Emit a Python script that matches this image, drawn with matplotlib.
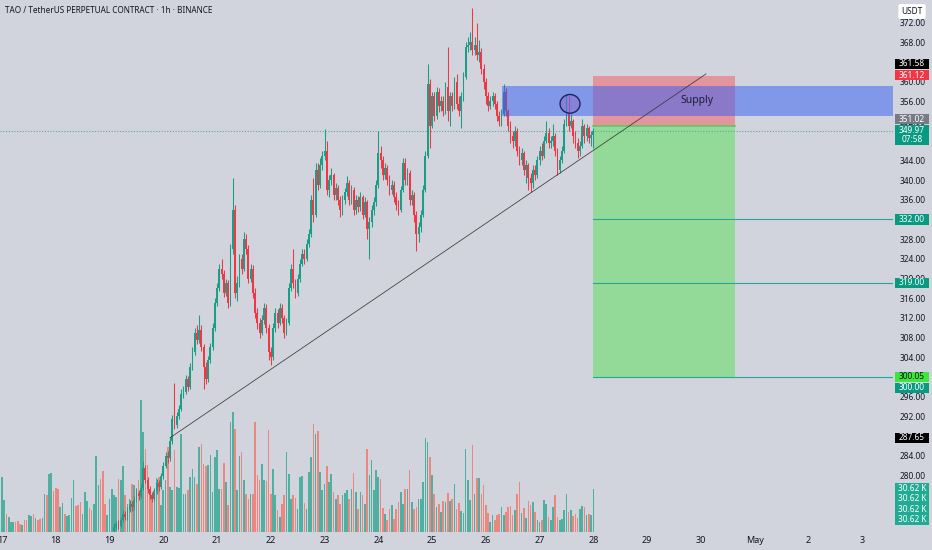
import matplotlib.pyplot as plt
import numpy as np
from matplotlib.patches import Rectangle, Ellipse
from matplotlib.ticker import FormatStrFormatter

plt.rcParams['font.family'] = ['Noto Sans', 'DejaVu Sans']

BG = '#d1d4dc'
UP = '#1a9e86'
DOWN = '#f23645'
VOL_UP = '#4fb0a2'
VOL_DOWN = '#ec867f'

# hours are counted from 17 Apr 00:00, one candle per hour
first_hour = 50
first_open = 268.8

closes_19 = [269.5, 270.2, 269.8, 271.0, 272.2, 271.5, 273.0, 274.2, 273.5, 275.0, 276.5,
             275.8, 277.5, 281.5, 279.0, 277.2, 276.0, 275.2, 276.8, 278.5, 277.6, 279.8]
highs_19 = [270.3, 270.8, 271.0, 271.6, 273.0, 272.8, 273.6, 275.0, 274.9, 275.8, 277.2,
            277.0, 278.3, 283.0, 282.2, 279.6, 277.8, 276.6, 277.4, 279.2, 279.0, 280.5]
lows_19 = [268.2, 269.0, 269.2, 269.5, 270.6, 270.9, 271.0, 272.6, 272.8, 273.0, 274.6,
           275.0, 275.4, 277.0, 278.4, 276.5, 275.2, 274.5, 274.8, 276.2, 276.8, 277.2]

closes_20 = [282.0, 284.0, 283.5, 287.0, 291.5, 290.2, 292.0, 293.5, 296.5, 297.0, 299.5, 298.0,
             302.0, 305.0, 309.0, 307.5, 309.5, 306.0, 302.0, 299.5, 303.5, 306.0, 310.0, 315.0]
highs_20 = [282.8, 284.8, 285.0, 287.8, 292.3, 298.8, 292.8, 294.3, 297.5, 298.2, 300.5, 300.2,
            302.8, 306.0, 310.0, 310.5, 312.5, 310.5, 306.8, 303.0, 304.2, 307.0, 311.0, 316.0]
lows_20 = [279.3, 281.5, 282.6, 283.0, 286.4, 289.5, 289.6, 291.5, 293.0, 295.8, 296.5, 297.2,
           297.6, 301.4, 304.5, 306.8, 307.0, 305.2, 297.5, 298.5, 299.0, 302.8, 305.5, 309.4]

closes_21 = [318, 322, 321, 317, 319, 315, 326, 334, 317, 319, 324, 322,
             328, 326, 320, 322, 317, 313, 311, 309, 311.5, 314, 310, 305]
highs_21 = [319.0, 323.0, 324.0, 321.8, 320.0, 319.8, 327.0, 340.5, 335.0, 320.5, 325.0, 325.0,
            329.5, 329.0, 326.8, 323.0, 322.8, 318.0, 314.0, 312.0, 312.5, 315.0, 314.8, 310.8]
lows_21 = [314.5, 317.4, 320.0, 316.2, 316.5, 314.0, 314.5, 325.0, 316.0, 315.5, 318.2, 321.0,
           321.5, 325.0, 319.0, 319.2, 316.0, 312.0, 309.8, 308.0, 308.5, 310.8, 309.0, 303.5]

closes_22 = [304, 310, 313, 311, 314, 312, 309, 311, 318, 322, 319, 317,
             320, 323, 325, 324, 327, 329, 336, 333, 342, 339, 343, 345]
highs_22 = [306.0, 311.0, 314.0, 313.8, 315.0, 314.8, 312.5, 312.0, 319.0, 323.0, 326.0, 320.0,
            321.0, 324.0, 326.0, 326.0, 328.0, 330.0, 337.0, 340.5, 343.5, 343.5, 344.5, 346.0]
lows_22 = [302.5, 303.5, 309.2, 310.0, 310.5, 311.0, 308.0, 308.5, 310.5, 317.4, 318.0, 316.0,
           316.5, 319.4, 322.5, 323.0, 323.5, 326.4, 328.5, 331.5, 332.5, 338.0, 338.5, 342.0]

closes_23 = [346, 338, 340, 341, 337, 338.5, 336, 334, 336, 337.5, 339.5, 336,
             338, 334, 336, 334.5, 336.5, 333, 335.5, 330, 331.5, 334, 335.5, 339]
highs_23 = [350.3, 348.0, 341.0, 342.5, 341.5, 339.5, 339.0, 336.8, 337.0, 338.5, 340.8, 340.0,
            339.0, 338.6, 337.0, 336.8, 337.5, 337.0, 336.5, 336.0, 332.5, 335.0, 336.5, 340.0]
lows_23 = [344.0, 337.0, 336.5, 339.0, 336.0, 336.0, 335.0, 332.5, 333.0, 335.2, 336.8, 335.0,
           335.2, 333.0, 333.2, 333.5, 333.8, 332.0, 332.5, 328.0, 324.0, 330.5, 333.0, 334.8]

closes_24 = [345.5, 344, 341, 342.5, 340, 338, 339, 336.5, 335, 334, 338, 343.5,
             340, 341.5, 336, 337, 333, 329, 330.5, 333, 338, 345, 359.5, 351]
highs_24 = [350.0, 347.0, 345.0, 343.5, 343.0, 341.0, 340.0, 339.8, 337.5, 336.0, 338.8, 344.5,
            344.5, 342.5, 342.0, 338.0, 337.5, 333.8, 331.5, 334.0, 339.0, 346.0, 363.5, 360.5]
lows_24 = [338.5, 342.5, 340.0, 340.2, 339.0, 337.0, 337.2, 335.5, 334.0, 333.0, 333.5, 337.5,
           339.0, 339.0, 335.0, 335.0, 331.5, 325.5, 327.5, 329.5, 332.5, 337.5, 344.5, 346.5]

closes_25 = [357, 353, 358, 355, 356, 354, 359, 354, 357, 355, 360, 355.5,
             354, 357, 361, 367, 367.5, 368, 366.5, 367.5, 365.5, 366, 362.5, 360]
highs_25 = [358.0, 358.0, 359.0, 358.8, 357.0, 357.0, 360.0, 367.0, 358.0, 358.0, 361.0, 361.5,
            357.0, 358.0, 362.0, 368.0, 369.0, 370.0, 375.0, 369.0, 372.0, 368.5, 366.8, 363.5]
lows_25 = [350.5, 352.0, 352.5, 353.8, 354.0, 353.0, 353.5, 352.0, 351.0, 354.0, 354.5, 354.5,
           353.0, 350.5, 356.0, 360.5, 366.0, 366.5, 365.5, 365.5, 364.5, 364.0, 361.5, 358.5]

closes_26 = [357, 355, 356, 357, 355.5, 353, 352, 353.5, 358, 354, 351, 349,
             348, 350, 346, 344, 345.5, 342, 343, 340.5, 339.5, 342, 341, 344]
highs_26 = [360.8, 358.0, 357.0, 358.0, 357.8, 356.0, 354.0, 354.5, 359.5, 358.8, 354.5, 352.0,
            350.0, 351.0, 350.5, 347.0, 346.5, 346.0, 344.0, 343.5, 341.5, 343.0, 343.0, 345.0]
lows_26 = [355.5, 354.0, 354.5, 355.0, 354.5, 352.0, 351.0, 351.0, 353.0, 353.0, 350.0, 347.5,
           346.5, 347.0, 345.0, 343.0, 343.0, 341.0, 339.5, 338.0, 337.5, 338.5, 340.0, 340.5]

closes_27 = [346, 345, 348, 349.5, 347.5, 348, 349, 346, 342, 344, 346, 351.5, 353.5,
             351, 352, 349, 347.5, 346, 347, 351, 349, 350.5, 348.5, 349.2, 349.97]
highs_27 = [347.0, 347.5, 349.0, 352.0, 350.5, 349.0, 351.5, 349.5, 346.5, 345.0, 347.0, 352.5, 357.5,
            357.0, 353.5, 352.5, 350.0, 348.5, 348.0, 352.5, 351.5, 351.5, 351.0, 350.0, 350.6]
lows_27 = [343.0, 344.0, 344.5, 347.5, 346.5, 346.5, 347.0, 345.0, 341.0, 341.5, 343.5, 345.5, 351.0,
           350.0, 350.5, 347.5, 346.5, 344.5, 345.0, 346.5, 347.5, 348.0, 347.5, 347.0, 346.5]

# volume in thousands, one bar per hour from 17 Apr 00:00
volume = [38.9, 22.4, 13.0, 10.6, 7.1, 7.1, 7.1, 7.8, 5.9, 4.7,
          8.2, 8.7, 11.8, 11.1, 12.5, 10.1, 8.2, 9.4, 10.1, 26.6,
          25.9, 40.7, 41.7, 29.0, 31.3, 30.6, 17.7, 20.5, 12.5, 11.1,
          11.8, 24.3, 36.5, 18.1, 18.8, 21.2, 13.0, 28.3, 21.9, 17.0,
          15.8, 19.5, 53.5, 33.0, 37.7, 43.1, 19.5, 11.8, 23.6, 30.6,
          25.9, 24.7, 37.7, 37.0, 46.4, 25.9, 20.0, 23.6, 34.1, 33.0,
          31.3, 36.5, 93.0, 70.7, 58.9, 47.1, 29.4, 25.9, 23.6, 38.4,
          38.9, 18.8, 29.4, 36.5, 60.1, 31.8, 29.4, 57.7, 31.8, 31.3,
          69.0, 27.1, 27.1, 29.4, 38.9, 44.7, 38.9, 34.1, 60.1, 62.4,
          48.3, 46.4, 47.1, 54.2, 28.3, 53.0, 57.7, 30.6, 30.6, 48.7,
          35.3, 18.8, 77.7, 84.8, 73.0, 29.4, 53.5, 56.5, 36.5, 27.1,
          23.6, 27.1, 27.1, 77.7, 40.0, 36.5, 48.3, 36.5, 36.0, 72.3,
          27.1, 44.7, 25.9, 15.3, 10.6, 20.0, 25.9, 56.5, 40.7, 23.6,
          25.9, 24.3, 16.5, 38.9, 39.3, 20.5, 16.5, 42.4, 53.0, 76.5,
          69.5, 71.4, 42.4, 29.4, 34.1, 46.4, 35.3, 41.2, 28.3, 23.6,
          25.9, 20.0, 25.9, 27.6, 29.4, 23.6, 30.6, 41.7, 28.3, 16.5,
          28.3, 25.9, 19.5, 58.9, 40.0, 50.6, 29.4, 43.6, 38.9, 37.7,
          17.2, 12.5, 8.7, 16.5, 18.8, 9.4, 16.5, 21.2, 28.3, 19.5,
          30.6, 30.6, 43.6, 21.2, 16.5, 17.7, 23.6, 23.6, 35.3, 66.6,
          63.6, 53.0, 40.0, 27.1, 17.7, 19.5, 14.1, 21.9, 21.2, 27.6,
          21.9, 23.6, 34.1, 16.5, 20.5, 14.8, 13.4, 58.9, 36.5, 22.4,
          61.2, 27.1, 38.4, 38.4, 27.1, 33.0, 18.8, 13.4, 7.1, 11.8,
          8.2, 11.8, 12.5, 17.7, 11.8, 14.1, 17.7, 18.1, 11.8, 15.3,
          27.1, 35.3, 13.4, 17.2, 10.1, 21.9, 18.8, 21.2, 14.1, 8.2,
          7.1, 8.2, 22.4, 20.0, 10.6, 8.2, 17.7, 25.9, 10.6, 8.7,
          9.4, 15.3, 27.1, 14.1, 15.8, 11.1, 13.0, 10.1, 16.5, 18.1,
          17.7, 11.8, 13.0, 11.8, 30.6]
# colour of the volume bars whose candles sit below the visible range
early_volume_dir = "ggrgggrrrgrrggrgrrggrggrrrggrggggrrrgggrrgggrrrggg"

day_labels = ['17', '18', '19', '20', '21', '22', '23', '24', '25', '26', '27', '28',
              '29', '30', 'May', '2', '3']

trend_start = (75, 287.65)
trend_end = (314.3, 361.58)
stop_price = 361.12
entry_price = 351.02
last_price = 349.97
targets = [332.00, 319.00, 300.05]
supply_zone = (353.05, 359.15)
position_end_hour = 327.2

closes = np.array(closes_19 + closes_20 + closes_21 + closes_22 + closes_23 +
                  closes_24 + closes_25 + closes_26 + closes_27)
highs = np.array(highs_19 + highs_20 + highs_21 + highs_22 + highs_23 +
                 highs_24 + highs_25 + highs_26 + highs_27)
lows = np.array(lows_19 + lows_20 + lows_21 + lows_22 + lows_23 +
                lows_24 + lows_25 + lows_26 + lows_27)
opens = np.concatenate([[first_open], closes[:-1]])
hours = np.arange(first_hour, first_hour + len(closes))
up = closes >= opens

vol_hours = np.arange(len(volume))
vol_colors = []
for h in vol_hours:
    if h < first_hour:
        vol_colors.append(VOL_UP if early_volume_dir[h] == 'g' else VOL_DOWN)
    else:
        vol_colors.append(VOL_UP if up[h - first_hour] else VOL_DOWN)

fig = plt.figure(figsize=(9.32, 5.5), dpi=100, facecolor=BG)
pos = [0, 18 / 550, 893 / 932, 532 / 550]
axv = fig.add_axes(pos, label='volume')
ax = fig.add_axes(pos, label='price')
axv.set_zorder(1)
ax.set_zorder(2)
ax.patch.set_visible(False)
axv.set_facecolor(BG)

x_lo, x_hi = -0.9, 397.8

# volume
axv.bar(vol_hours, volume, width=0.72, color=vol_colors, linewidth=0)
axv.set_xlim(x_lo, x_hi)
axv.set_ylim(0, 376)
axv.axis('off')

# candles
col = np.where(up, UP, DOWN)
ax.vlines(hours, lows, highs, colors=col, linewidth=0.75, zorder=3)
body_lo = np.minimum(opens, closes)
body_h = np.maximum(np.abs(closes - opens), 0.25)
ax.bar(hours, body_h, bottom=body_lo, width=0.8, color=col, linewidth=0, zorder=3)

# position tool boxes
ax.add_patch(Rectangle((hours[-1], targets[-1]), position_end_hour - hours[-1],
                       entry_price - targets[-1], facecolor='#93da99', edgecolor='none', zorder=1))
ax.add_patch(Rectangle((hours[-1], entry_price), position_end_hour - hours[-1],
                       stop_price - entry_price, facecolor='#e2959d', edgecolor='none', zorder=1))
ax.plot([hours[-1], position_end_hour], [entry_price, entry_price], color='#5cc868', lw=1.2, zorder=2)
for t in targets:
    ax.plot([hours[-1], x_hi], [t, t], color='#26a69a', lw=0.8, zorder=2)

# supply zone
ax.add_patch(Rectangle((223.2, supply_zone[0]), x_hi - 223.2, supply_zone[1] - supply_zone[0],
                       facecolor=(0.2, 0.36, 0.96, 0.5), edgecolor='none', zorder=4))
ax.text(310.3, 356.2, 'Supply', fontsize=7.5, color='#1c1f3a', ha='center', va='center', zorder=6)

# current price line
ax.axhline(last_price, color='#5aa9a0', lw=0.8, ls=(0, (1, 1.5)), zorder=2)

# trend line
ax.plot([trend_start[0], trend_end[0]], [trend_start[1], trend_end[1]],
        color='#3a3a3a', lw=0.55, zorder=5)

# highlight circle
ax.add_patch(Ellipse((253.6, 355.5), 8.9, 3.8, facecolor=(0.55, 0.42, 0.78, 0.45),
                     edgecolor='#1d2260', lw=1.0, zorder=5))

ax.set_xlim(x_lo, x_hi)
ax.set_ylim(268.5, 376.6)
for s in ax.spines.values():
    s.set_visible(False)

ax.set_xticks(np.arange(0, 385, 24))
ax.set_xticklabels(day_labels)
ax.tick_params(axis='x', length=0, pad=3, labelsize=6.5, labelcolor='#131722')
ax.yaxis.tick_right()
ax.set_yticks(np.arange(280, 373, 4))
ax.yaxis.set_major_formatter(FormatStrFormatter('%.2f'))
ax.tick_params(axis='y', length=0, pad=5, labelsize=6, labelcolor='#131722')

# price tags on the right scale
tr = ax.get_yaxis_transform()
tag_x0, tag_w, tag_h = 1.0022, 0.038, 2.05


def tag(y, text, fc, tc='white', lines=1):
    hgt = tag_h * lines
    ax.add_patch(Rectangle((tag_x0, y - hgt / 2), tag_w, hgt, transform=tr, facecolor=fc,
                           edgecolor='none', clip_on=False, zorder=8))
    ax.text(tag_x0 + tag_w / 2, y, text, transform=tr, ha='center', va='center', fontsize=6,
            color=tc, clip_on=False, zorder=9, linespacing=1.1)


tag(363.67, '361.58', '#000000')
tag(361.3, '361.12', '#f23645')
tag(352.4, '351.02', '#787b86')
tag(349.15, '349.97\n07:58', '#089981', lines=2)
tag(332.0, '332.00', '#089981')
tag(319.1, '319.00', '#089981')
tag(300.0, '300.05', '#3ee53a', tc='#131722')
tag(297.8, '300.00', '#089981')
tag(287.65, '287.65', '#000000')
ax.add_patch(Rectangle((tag_x0, 270.0), tag_w, 8.4, transform=tr, facecolor='#22ab94',
                       edgecolor='none', clip_on=False, zorder=8))
for yv in [277.36, 275.23, 273.1, 270.96]:
    ax.text(tag_x0 + tag_w / 2, yv, '30.62 K', transform=tr, ha='center', va='center',
            fontsize=6, color='white', clip_on=False, zorder=9)

fig.text(912 / 932, 1 - 11.5 / 550, 'USDT', fontsize=6, color='#131722', ha='center', va='center',
         bbox=dict(boxstyle='round,pad=0.35,rounding_size=0.2', fc='white', ec='none'), zorder=10)
fig.text(5 / 932, 1 - 10.5 / 550, 'TAO / TetherUS PERPETUAL CONTRACT · 1h · BINANCE',
         fontsize=5.9, fontweight='bold', color='#131722', ha='left', va='center')

fig.savefig('out.png', dpi=100, facecolor=BG)
